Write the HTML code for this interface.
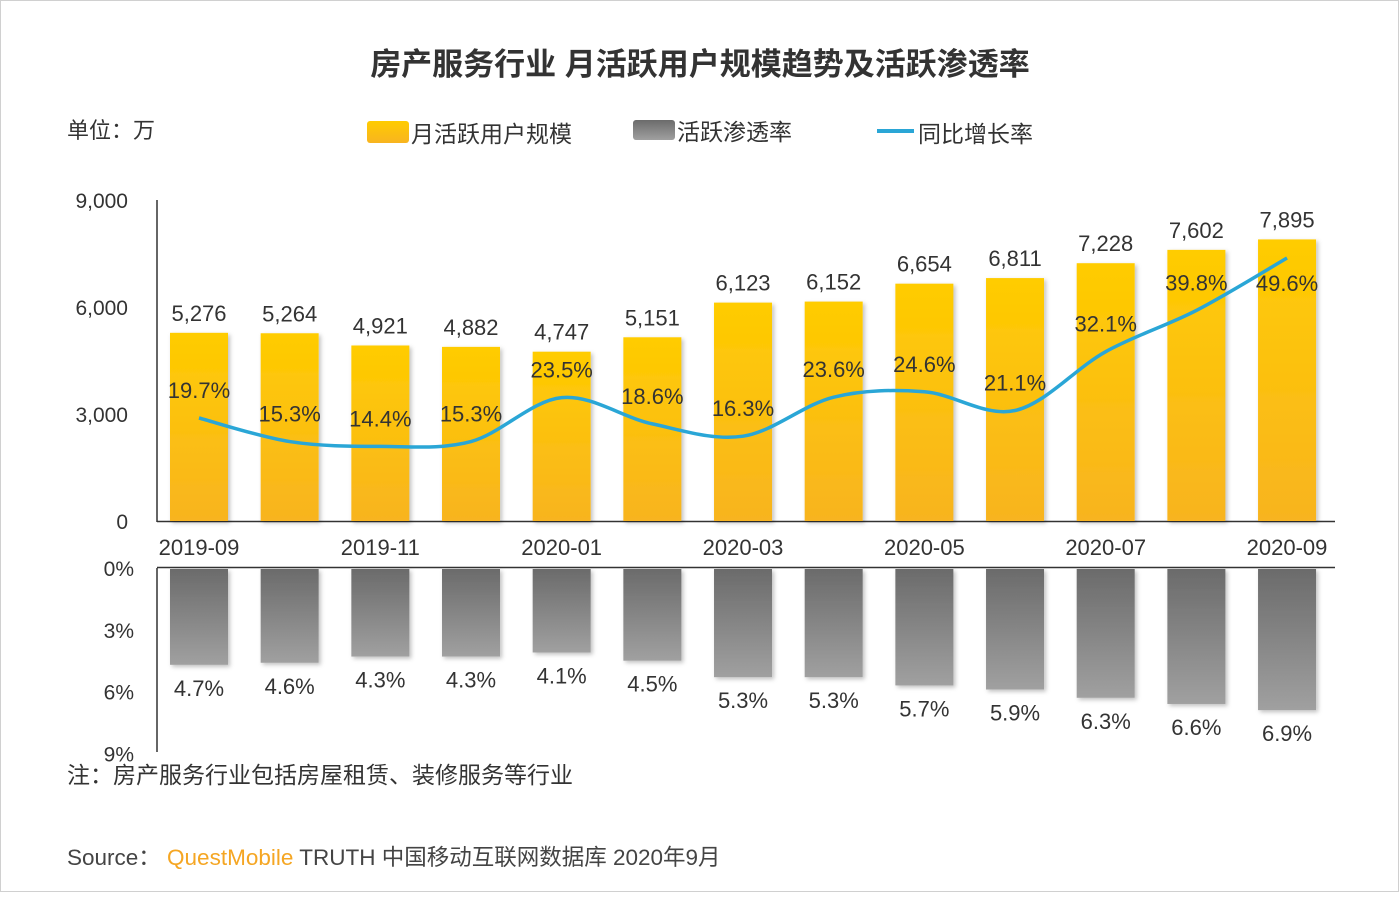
<!DOCTYPE html>
<html><head><meta charset="utf-8"><style>
html,body{margin:0;padding:0;background:#fff;}
body{width:1399px;height:892px;overflow:hidden;font-family:"Liberation Sans","Noto Sans CJK SC",sans-serif;}
svg text{font-family:"Liberation Sans","Noto Sans CJK SC",sans-serif;}
</style></head><body>
<svg id="s" width="1399" height="892" xmlns="http://www.w3.org/2000/svg">
<defs>
<linearGradient id="gy" x1="0" y1="0" x2="0" y2="1"><stop offset="0" stop-color="#FFCC00"/><stop offset="1" stop-color="#F8B420"/></linearGradient>
<linearGradient id="gg" x1="0" y1="0" x2="0" y2="1"><stop offset="0" stop-color="#6b6b6b"/><stop offset="1" stop-color="#a0a0a0"/></linearGradient>
<filter id="sh" x="-20%" y="-20%" width="150%" height="150%"><feDropShadow dx="2" dy="2" stdDeviation="2" flood-color="#000" flood-opacity="0.25"/></filter>
</defs>
<rect x="0.5" y="0.5" width="1398" height="891" fill="#fff" stroke="#d0d0d0"/>
<text x="700" y="75" text-anchor="middle" font-size="31" font-weight="bold" fill="#333">房产服务行业 月活跃用户规模趋势及活跃渗透率</text>
<text x="67" y="138" font-size="22" fill="#333">单位：万</text>
<rect x="367" y="121" width="42" height="22" rx="3" fill="url(#gy)"/>
<text x="411" y="142" font-size="23" fill="#333">月活跃用户规模</text>
<rect x="633" y="120" width="42" height="20" rx="3" fill="url(#gg)"/>
<text x="677" y="140" font-size="23" fill="#333">活跃渗透率</text>
<line x1="877" y1="131" x2="914" y2="131" stroke="#2aa6d6" stroke-width="4"/>
<text x="918" y="142" font-size="23" fill="#333">同比增长率</text>
<g id="g"></g>
<text x="67" y="783" font-size="23" fill="#333">注：房产服务行业包括房屋租赁、装修服务等行业</text>
<text x="67" y="865" font-size="22.5" fill="#444">Source： <tspan fill="#F5A623">QuestMobile</tspan> TRUTH 中国移动互联网数据库 2020年9月</text>
</svg>
<script>
var g=document.getElementById('g'),h='';
var v=[5276,5264,4921,4882,4747,5151,6123,6152,6654,6811,7228,7602,7895];
var p=[19.7,15.3,14.4,15.3,23.5,18.6,16.3,23.6,24.6,21.1,32.1,39.8,49.6];
var q=[4.7,4.6,4.3,4.3,4.1,4.5,5.3,5.3,5.7,5.9,6.3,6.6,6.9];
function yv(x){return 521-x*321/9000;}
h+='<line x1="157" y1="200" x2="157" y2="522" stroke="#333" stroke-width="1.5"/>';
h+='<line x1="157" y1="521.5" x2="1335" y2="521.5" stroke="#333" stroke-width="1.5"/>';
h+='<line x1="157" y1="568" x2="157" y2="752" stroke="#333" stroke-width="1.5"/>';
h+='<line x1="157" y1="567.5" x2="1335" y2="567.5" stroke="#333" stroke-width="1.5"/>';
[[0,'0'],[3000,'3,000'],[6000,'6,000'],[9000,'9,000']].forEach(function(t){h+='<text x="128" y="'+(yv(t[0])+8)+'" text-anchor="end" font-size="21" fill="#333">'+t[1]+'</text>';});
[0,3,6,9].forEach(function(t){h+='<text x="134" y="'+(568+t*20.6+8)+'" text-anchor="end" font-size="21" fill="#333">'+t+'%</text>';});
var xs=[],ys=[];
for(var i=0;i<13;i++){var c=199+i*90.67;xs.push(c);
var t=yv(v[i]);
h+='<rect x="'+(c-29)+'" y="'+t+'" width="58" height="'+(521-t)+'" fill="url(#gy)" filter="url(#sh)"/>';
h+='<text x="'+c+'" y="'+(t-12)+'" text-anchor="middle" font-size="22" fill="#333">'+v[i].toLocaleString('en-US')+'</text>';
var b=568+q[i]*20.6;
h+='<rect x="'+(c-29)+'" y="569" width="58" height="'+(b-569)+'" fill="url(#gg)" filter="url(#sh)"/>';
h+='<text x="'+c+'" y="'+(b+31)+'" text-anchor="middle" font-size="22" fill="#333">'+q[i].toFixed(1)+'%</text>';
ys.push(523.4-5.35*p[i]);
if(i%2==0){h+='<text x="'+c+'" y="555" text-anchor="middle" font-size="22" fill="#333">'+['2019-09','2019-11','2020-01','2020-03','2020-05','2020-07','2020-09'][i/2]+'</text>';}
}
var d='M'+xs[0]+','+ys[0];
for(var i=0;i<12;i++){var x0=xs[Math.max(i-1,0)],y0=ys[Math.max(i-1,0)],x3=xs[Math.min(i+2,12)],y3=ys[Math.min(i+2,12)];
var c1x=xs[i]+(xs[i+1]-x0)/6,c1y=ys[i]+(ys[i+1]-y0)/6,c2x=xs[i+1]-(x3-xs[i])/6,c2y=ys[i+1]-(y3-ys[i])/6;
d+=' C'+c1x+','+c1y+' '+c2x+','+c2y+' '+xs[i+1]+','+ys[i+1];}
h+='<path d="'+d+'" fill="none" stroke="#2aa6d6" stroke-width="3.5"/>';
for(var i=0;i<13;i++){var ly=(i==12)?ys[i]+33:ys[i]-20;h+='<text x="'+xs[i]+'" y="'+ly+'" text-anchor="middle" font-size="22" fill="#333">'+p[i].toFixed(1)+'%</text>';}
g.innerHTML=h;
</script>
</body></html>
